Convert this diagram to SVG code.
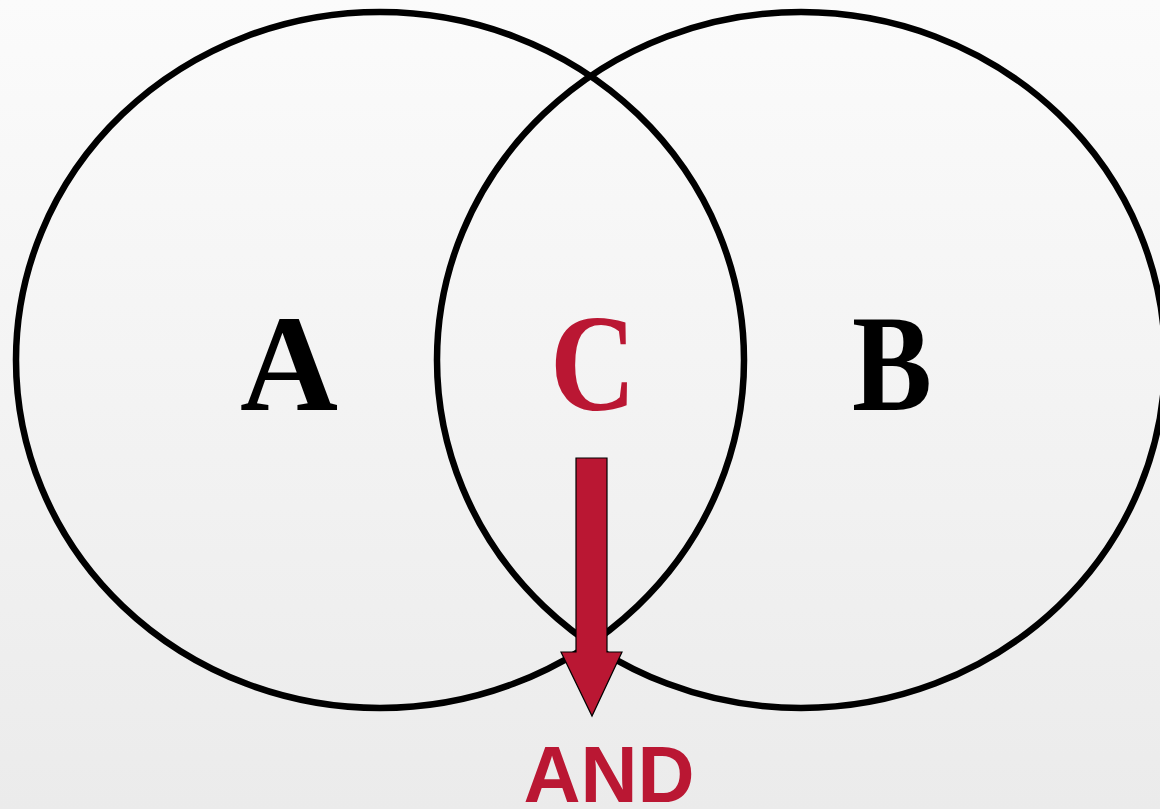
<svg xmlns="http://www.w3.org/2000/svg" width="1160" height="809" viewBox="0 0 1160 809">
  <defs>
    <linearGradient id="bg" x1="0" y1="0" x2="0" y2="1">
      <stop offset="0" stop-color="#fbfbfb"/>
      <stop offset="1" stop-color="#ebebeb"/>
    </linearGradient>
    <style>
      .set { fill: none; stroke: #000; stroke-width: 6.5; }
      .lbl { font-family: "Liberation Serif", "Times New Roman", serif; font-weight: bold; font-size: 138px; text-anchor: middle; }
      .red { fill: #BA1733; }
      .and { font-family: "Liberation Sans", Arial, sans-serif; font-weight: bold; font-size: 79px; text-anchor: middle; }
    </style>
  </defs>
  <rect width="1160" height="809" fill="url(#bg)"/>
  <g id="setA">
    <ellipse class="set" cx="380" cy="360" rx="364" ry="348"/>
    <text class="lbl" x="289" y="410" fill="#000" textLength="98" lengthAdjust="spacingAndGlyphs">A</text>
  </g>
  <g id="setB">
    <ellipse class="set" cx="801" cy="360" rx="364" ry="348"/>
    <text class="lbl" x="892" y="410" fill="#000" textLength="80" lengthAdjust="spacingAndGlyphs">B</text>
  </g>
  <g id="intersectionC">
    <text class="lbl red" x="593" y="410" textLength="86" lengthAdjust="spacingAndGlyphs">C</text>
  </g>
  <g id="connectors">
    <path class="red" stroke="#000" stroke-width="1.2" stroke-linejoin="miter" d="M576,458 L607,458 L607,652 L622,652 L592,716 L561,652 L576,652 Z"/>
  </g>
  <g id="andLabel">
    <text class="and red" x="609" y="802">AND</text>
  </g>
</svg>
